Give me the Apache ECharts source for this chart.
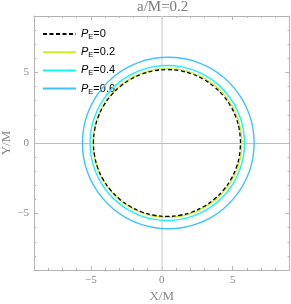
<!DOCTYPE html>
<html>
<head>
<meta charset="utf-8">
<script src="https://cdn.jsdelivr.net/npm/echarts@6/dist/echarts.min.js"></script>
<style>html,body{margin:0;padding:0;background:#fff}#c{width:291px;height:304px}</style>
</head>
<body>
<div id="c"></div>
<script>
const titleText = 'a/M=0.2';
const xName = 'X/M';
const yName = 'Y/M';
const axisMin = -9;
const axisMax = 9;
const majorTicks = [-5, 0, 5];
const seriesNames = ['PE=0', 'PE=0.2', 'PE=0.4', 'PE=0.6'];
const legendValues = ['0', '0.2', '0.4', '0.6'];

const shadowPE0 = [
  [5.55,0],[5.47,0.91],[5.24,1.78],[4.86,2.60],[4.34,3.34],[3.70,3.98],[2.96,4.50],[2.14,4.89],[1.27,5.12],[0.37,5.20],
  [-0.53,5.12],[-1.40,4.89],[-2.22,4.50],[-2.96,3.98],[-3.60,3.34],[-4.12,2.60],[-4.50,1.78],[-4.73,0.91],[-4.81,0],
  [-4.73,-0.91],[-4.50,-1.78],[-4.12,-2.60],[-3.60,-3.34],[-2.96,-3.98],[-2.22,-4.50],[-1.40,-4.89],[-0.53,-5.12],[0.37,-5.20],
  [1.27,-5.12],[2.14,-4.89],[2.96,-4.50],[3.70,-3.98],[4.34,-3.34],[4.86,-2.60],[5.24,-1.78],[5.47,-0.91],[5.55,0]
];
const shadowPE02 = [
  [5.65,0],[5.57,0.92],[5.34,1.80],[4.95,2.64],[4.42,3.39],[3.78,4.04],[3.03,4.56],[2.20,4.95],[1.32,5.19],[0.41,5.27],
  [-0.50,5.19],[-1.38,4.95],[-2.21,4.56],[-2.96,4.04],[-3.60,3.39],[-4.13,2.64],[-4.52,1.80],[-4.75,0.92],[-4.83,0],
  [-4.75,-0.92],[-4.52,-1.80],[-4.13,-2.64],[-3.60,-3.39],[-2.96,-4.04],[-2.21,-4.56],[-1.38,-4.95],[-0.50,-5.19],[0.41,-5.27],
  [1.32,-5.19],[2.20,-4.95],[3.03,-4.56],[3.78,-4.04],[4.42,-3.39],[4.95,-2.64],[5.34,-1.80],[5.57,-0.92],[5.65,0]
];
const shadowPE04 = [
  [5.83,0],[5.75,0.96],[5.50,1.88],[5.10,2.75],[4.56,3.53],[3.89,4.21],[3.11,4.75],[2.25,5.16],[1.34,5.41],[0.39,5.49],
  [-0.56,5.41],[-1.47,5.16],[-2.33,4.75],[-3.11,4.21],[-3.78,3.53],[-4.32,2.75],[-4.72,1.88],[-4.97,0.96],[-5.05,0],
  [-4.97,-0.96],[-4.72,-1.88],[-4.32,-2.75],[-3.78,-3.53],[-3.11,-4.21],[-2.33,-4.75],[-1.47,-5.16],[-0.56,-5.41],[0.39,-5.49],
  [1.34,-5.41],[2.25,-5.16],[3.11,-4.75],[3.89,-4.21],[4.56,-3.53],[5.10,-2.75],[5.50,-1.88],[5.75,-0.96],[5.83,0]
];
const shadowPE06 = [
  [6.51,0],[6.42,1.06],[6.15,2.08],[5.70,3.04],[5.09,3.91],[4.35,4.66],[3.49,5.27],[2.53,5.72],[1.51,5.99],[0.46,6.08],
  [-0.59,5.99],[-1.61,5.72],[-2.57,5.27],[-3.43,4.66],[-4.17,3.91],[-4.78,3.04],[-5.23,2.08],[-5.50,1.06],[-5.59,0],
  [-5.50,-1.06],[-5.23,-2.08],[-4.78,-3.04],[-4.17,-3.91],[-3.43,-4.66],[-2.57,-5.27],[-1.61,-5.72],[-0.59,-5.99],[0.46,-6.08],
  [1.51,-5.99],[2.53,-5.72],[3.49,-5.27],[4.35,-4.66],[5.09,-3.91],[5.70,-3.04],[6.15,-2.08],[6.42,-1.06],[6.51,0]
];
const curveData = [shadowPE0, shadowPE02, shadowPE04, shadowPE06];
const curveColors = ['#000000', '#cfee2a', '#1cf2f2', '#3ec3ff'];

const serif = 'Liberation Serif';
const frameColor = '#b4b4b4';
const labelColor = '#8a8a8a';

function fmt(v) { return v < 0 ? '\u2212' + Math.abs(v) : String(v); }

function minorAxis(pos, name, gap) {
  const a = {
    type: 'value', position: pos, min: axisMin, max: axisMax, interval: 1,
    axisLine: { show: true, onZero: false, lineStyle: { color: frameColor, width: 1 } },
    axisTick: { show: true, inside: true, length: 2, lineStyle: { color: frameColor } },
    axisLabel: { show: false },
    splitLine: { show: false }
  };
  if (name) {
    a.name = name;
    a.nameLocation = 'middle';
    a.nameGap = gap;
    a.nameTextStyle = { color: labelColor, fontFamily: serif, fontSize: 13 };
  }
  return a;
}
function majorAxis(pos, labels) {
  return {
    type: 'value', position: pos, min: axisMin, max: axisMax,
    axisLine: { show: false, onZero: false },
    axisTick: { show: true, inside: true, length: 4, customValues: majorTicks, lineStyle: { color: frameColor } },
    axisLabel: labels ? { show: true, customValues: majorTicks, formatter: fmt, color: labelColor, fontFamily: serif, fontSize: 11, margin: 5 } : { show: false },
    splitLine: { show: false }
  };
}

const series = [{
  type: 'line', name: 'grid0', data: [], silent: true, z: 1,
  markLine: {
    silent: true, symbol: 'none', label: { show: false }, animation: false,
    data: [
      { xAxis: 0, lineStyle: { color: '#dadada', width: 1.5, type: 'solid' } },
      { yAxis: 0, lineStyle: { color: '#bdbdbd', width: 1, type: 'solid' } }
    ]
  }
}];
for (let i = curveData.length - 1; i >= 0; i--) {
  series.push({
    type: 'line', name: seriesNames[i], data: curveData[i], showSymbol: false, symbol: 'none',
    smooth: 0.4, z: i === 0 ? 10 : 5 + (curveData.length - i),
    lineStyle: { color: curveColors[i], width: i === 0 ? 1.3 : 1.4, type: i === 0 ? [4, 2.5] : 'solid' },
    itemStyle: { color: curveColors[i] }
  });
}

const chart = echarts.init(document.getElementById('c'), null, { renderer: 'canvas' });
chart.setOption({
  animation: false,
  backgroundColor: '#fff',
  title: {
    text: titleText, left: 137, top: 0, padding: 0,
    textStyle: { color: '#7a7a7a', fontFamily: serif, fontSize: 15, fontWeight: 'normal' }
  },
  grid: { left: 34, right: 1.5, top: 16, bottom: 34, containLabel: false, outerBoundsMode: 'none' },
  legend: {
    data: seriesNames, orient: 'vertical', left: 42, top: 28, padding: 0,
    itemWidth: 33, itemHeight: 10, itemGap: 5.2,
    itemStyle: { opacity: 0 },
    formatter: function (name) { const k = seriesNames.indexOf(name); return '{i|P}{s|E}{n|=' + legendValues[k] + '}'; },
    textStyle: {
      color: '#000', fontFamily: 'Liberation Sans', fontSize: 11,
      rich: {
        i: { fontStyle: 'italic', fontSize: 11, fontFamily: 'Liberation Sans', lineHeight: 14, verticalAlign: 'middle' },
        s: { fontSize: 7.5, fontFamily: 'Liberation Sans', lineHeight: 14, verticalAlign: 'bottom', padding: [5, 0, 0, 0] },
        n: { fontSize: 11, fontFamily: 'Liberation Sans', lineHeight: 14, verticalAlign: 'middle' }
      }
    }
  },
  xAxis: [minorAxis('bottom', xName, 20), majorAxis('bottom', true), minorAxis('top'), majorAxis('top', false)],
  yAxis: [minorAxis('left', yName, 21), majorAxis('left', true), minorAxis('right'), majorAxis('right', false)],
  series: series
});
</script>
</body>
</html>
